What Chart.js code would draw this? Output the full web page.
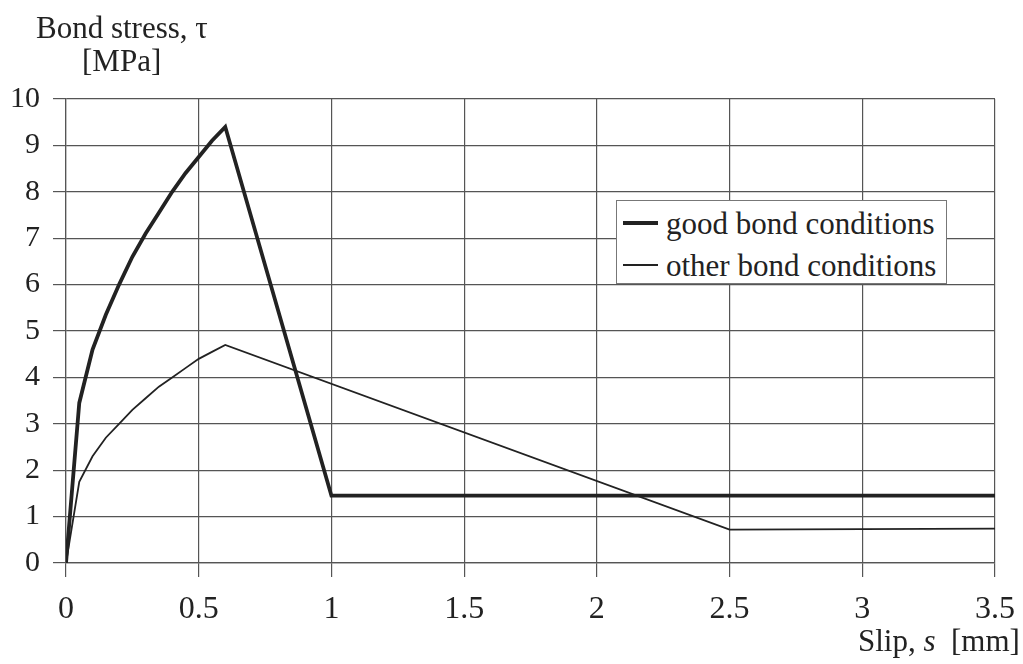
<!DOCTYPE html>
<html>
<head>
<meta charset="utf-8">
<script src="https://cdn.jsdelivr.net/npm/chart.js@4.4.1/dist/chart.umd.min.js"></script>
<style>
  html, body { margin: 0; padding: 0; background: #fff; }
  #wrap { position: relative; width: 1023px; height: 664px; font-family: "Liberation Serif", "Times New Roman", serif; color: #222; }
  canvas { position: absolute; left: 0; top: 0; }
  .lbl { position: absolute; font-size: 31px; white-space: nowrap; line-height: 1; }
  #legend { position: absolute; left: 616px; top: 200px; width: 331px; height: 84px; background: #fff; border: 1px solid #777; box-sizing: border-box; }
  #legend .row { position: absolute; left: 6px; height: 32px; display: flex; align-items: center; font-size: 31px; line-height: 1; }
  #legend .sw { width: 35px; margin-right: 8px; background: #222; }
</style>
</head>
<body>
<div id="wrap">
  <canvas id="bondChart" width="1023" height="664"></canvas>
  <div class="lbl" style="left:36px; top:12px;">Bond stress, τ</div>
  <div class="lbl" style="left:82px; top:45px;">[MPa]</div>
  <div class="lbl" style="left:858px; top:625px;">Slip, <i>s</i>&nbsp; [mm]</div>
  <div id="legend">
    <div class="row" style="top:6px;"><span class="sw" style="height:3.5px;"></span>good bond conditions</div>
    <div class="row" style="top:48px;"><span class="sw" style="height:1.6px;"></span>other bond conditions</div>
  </div>
</div>
<script>
// valeurs
const slipGood   = [0, 0.05, 0.1, 0.15, 0.2, 0.25, 0.3, 0.35, 0.4, 0.45, 0.5, 0.55, 0.6, 1.0, 3.5];
const tauGood    = [0, 3.45, 4.6, 5.35, 6.0, 6.6, 7.1, 7.55, 8.0, 8.4, 8.75, 9.1, 9.4, 1.45, 1.45];
const slipOther  = [0, 0.05, 0.1, 0.15, 0.2, 0.25, 0.3, 0.35, 0.4, 0.45, 0.5, 0.55, 0.6, 2.5, 3.5];
const tauOther   = [0, 1.75, 2.3, 2.7, 3.0, 3.3, 3.55, 3.8, 4.0, 4.2, 4.4, 4.55, 4.7, 0.72, 0.74];
const xTicks     = ['0', '0.5', '1', '1.5', '2', '2.5', '3', '3.5'];

const toPts = (xs, ys) => xs.map((x, i) => ({ x, y: ys[i] }));

const ctx = document.getElementById('bondChart').getContext('2d');
new Chart(ctx, {
  type: 'line',
  data: {
    datasets: [{
      label: 'good bond conditions',
      data: toPts(slipGood, tauGood),
      borderColor: '#222',
      borderWidth: 3.8,
      pointRadius: 0,
      tension: 0
    }, {
      label: 'other bond conditions',
      data: toPts(slipOther, tauOther),
      borderColor: '#222',
      borderWidth: 1.8,
      pointRadius: 0,
      tension: 0
    }]
  },
  options: {
    responsive: false,
    animation: false,
    layout: { padding: { top: 99, right: 28, left: 0, bottom: 0 } },
    plugins: { legend: { display: false }, tooltip: { enabled: false } },
    scales: {
      x: {
        type: 'linear',
        min: 0, max: 3.5,
        afterFit: s => { s.height = 101; s.paddingRight = 0; s.paddingLeft = 0; },
        ticks: {
          stepSize: 0.5,
          padding: 13,
          color: '#222',
          font: { family: '"Liberation Serif", serif', size: 32 },
          callback: (v) => xTicks[Math.round(v / 0.5)]
        },
        grid: { color: '#555', lineWidth: 1.2, tickLength: 14 },
        border: { color: '#555', width: 1.2 }
      },
      y: {
        min: 0, max: 10,
        afterFit: s => { s.width = 66; },
        ticks: {
          stepSize: 1,
          padding: 13,
          color: '#222',
          font: { family: '"Liberation Serif", serif', size: 30 }
        },
        grid: { color: '#555', lineWidth: 1.2, tickLength: 13 },
        border: { color: '#555', width: 1.2 }
      }
    }
  }
});
</script>
</body>
</html>
